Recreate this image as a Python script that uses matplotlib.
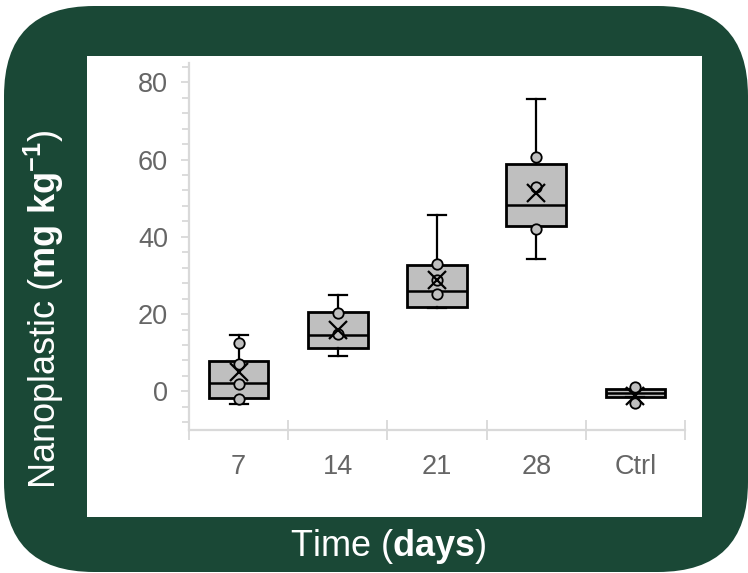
import matplotlib
matplotlib.use("Agg")
import matplotlib.pyplot as plt
from matplotlib.patches import FancyBboxPatch, Rectangle
from matplotlib.ticker import MultipleLocator, FixedLocator

plt.rcParams['font.family'] = ['Liberation Sans', 'DejaVu Sans']
plt.rcParams['mathtext.fontset'] = 'custom'
plt.rcParams['mathtext.rm'] = 'Liberation Sans'
plt.rcParams['mathtext.bf'] = 'Liberation Sans:bold'
plt.rcParams['mathtext.it'] = 'Liberation Sans:italic'

# ---- data ----
categories = ["7", "14", "21", "28", "Ctrl"]
whisker_low = [-3.2, 9.1, 21.5, 34.3, -1.4]
q1 = [-1.8, 11.1, 21.9, 42.7, -1.4]
median = [2.2, 14.5, 26.1, 48.2, -0.3]
q3 = [7.8, 20.6, 32.6, 58.8, 0.5]
whisker_high = [14.5, 25.0, 45.7, 75.6, 0.5]
means = [4.9, 15.8, 28.9, 51.4, -1.2]
points = [
    [12.4, 7.0, 2.0, -2.1],
    [20.3, 14.8],
    [33.0, 28.9, 25.2],
    [60.6, 52.8, 42.0],
    [1.1, -2.9],
]
y_ticks = [0, 20, 40, 60, 80]

GREEN = '#1a4836'
BOXFILL = '#bfbfbf'
AXISGREY = '#d9d9d9'
TEXTGREY = '#666666'

W, H = 748, 573
fig = plt.figure(figsize=(W / 100, H / 100), dpi=100)
fig.patch.set_facecolor('white')

# background (pixel coordinates)
bg = fig.add_axes([0, 0, 1, 1])
bg.set_xlim(0, W)
bg.set_ylim(H, 0)
bg.axis('off')
bg.add_patch(FancyBboxPatch((4, 6), 744, 566,
                            boxstyle="round,pad=0,rounding_size=90",
                            facecolor=GREEN, edgecolor='none'))
bg.add_patch(Rectangle((87, 56), 702 - 87, 517 - 56, facecolor='white', edgecolor='none'))

# main axes
L, R, T, B = 189, 685, 63, 430
ax = fig.add_axes([L / W, (H - B) / H, (R - L) / W, (B - T) / H])
ax.set_facecolor('none')

positions = list(range(len(categories)))
stats = []
for i in positions:
    stats.append(dict(whislo=whisker_low[i], q1=q1[i], med=median[i], q3=q3[i],
                      whishi=whisker_high[i], mean=means[i], fliers=[]))

ax.bxp(stats, positions=positions, widths=0.6, patch_artist=True,
       showmeans=False, showfliers=False,
       boxprops=dict(facecolor=BOXFILL, edgecolor='black', linewidth=2.0),
       medianprops=dict(color='black', linewidth=1.8),
       whiskerprops=dict(color='black', linewidth=1.6),
       capprops=dict(color='black', linewidth=1.6),
       capwidths=0.18, zorder=2)

for i, pts in enumerate(points):
    ax.plot([positions[i]] * len(pts), pts, linestyle='none', marker='o',
            markersize=7.5, markerfacecolor=BOXFILL, markeredgecolor='black',
            markeredgewidth=1.3, zorder=3)

ax.plot(positions, means, linestyle='none', marker='x', markersize=13,
        markeredgecolor='black', markeredgewidth=1.6, zorder=4)

ax.set_xlim(-0.5, len(categories) - 0.5)
ax.set_ylim(-10, 85)

for s in ['top', 'right']:
    ax.spines[s].set_visible(False)
for s in ['left', 'bottom']:
    ax.spines[s].set_color(AXISGREY)
    ax.spines[s].set_linewidth(1.6)

ax.yaxis.set_major_locator(FixedLocator(y_ticks))
ax.yaxis.set_minor_locator(MultipleLocator(4))
ax.tick_params(axis='y', which='major', direction='out', length=6, width=1.3,
               color=AXISGREY, labelsize=19.5, labelcolor=TEXTGREY, pad=9)
ax.tick_params(axis='y', which='minor', direction='out', length=5, width=1.3,
               color=AXISGREY)

ax.xaxis.set_major_locator(FixedLocator([p - 0.5 for p in positions] + [positions[-1] + 0.5]))
ax.xaxis.set_major_formatter(plt.NullFormatter())
ax.set_xticks(positions, minor=True)
ax.set_xticklabels(categories, minor=True)
ax.tick_params(axis='x', which='major', direction='inout', length=14, width=1.3,
               color=AXISGREY)
ax.tick_params(axis='x', which='minor', length=0, labelsize=19.5,
               labelcolor=TEXTGREY, pad=17)

fig.text(44 / W, 1 - 309 / H, r"Nanoplastic ($\mathbf{mg\ kg^{-1}}$)",
         rotation=90, ha='center', va='center', color='white', fontsize=26)
fig.text(388 / W, 1 - 547 / H, r"Time ($\mathbf{days}$)",
         ha='center', va='center', color='white', fontsize=26)

fig.savefig('out.png', dpi=100, facecolor='white')
